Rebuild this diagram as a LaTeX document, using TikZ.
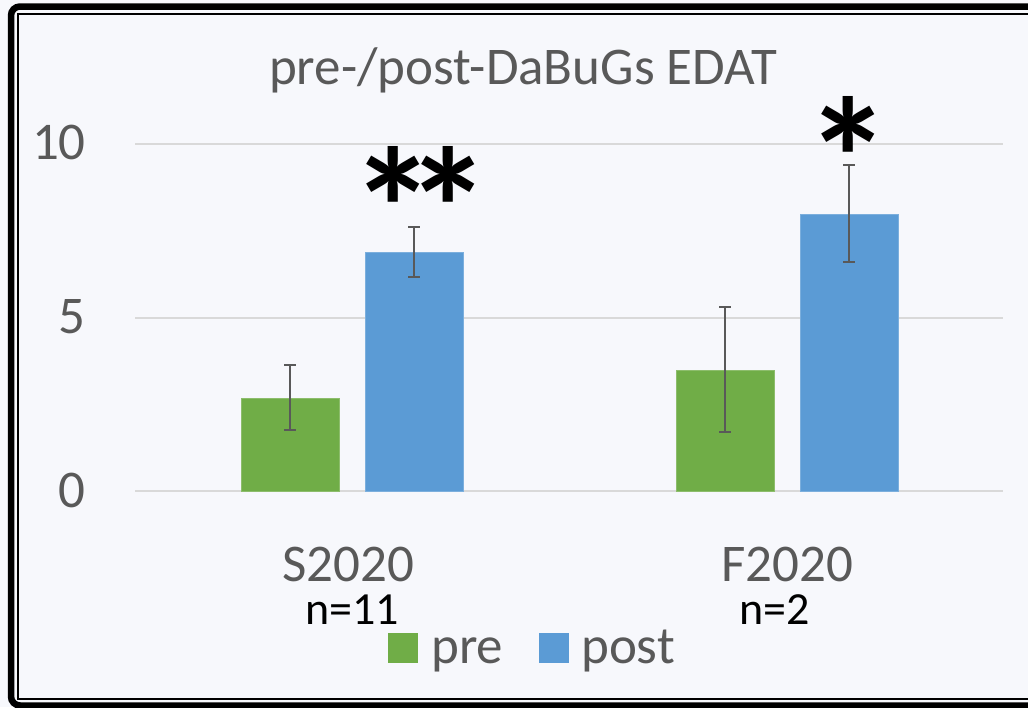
\documentclass[tikz,border=0pt]{standalone}
\usepackage{fontspec}
\setmainfont{Carlito}
\definecolor{bg}{RGB}{247,248,252}
\definecolor{txt}{RGB}{89,89,89}
\definecolor{gridc}{RGB}{217,217,217}
\definecolor{prec}{RGB}{112,173,71}
\definecolor{postc}{RGB}{91,155,213}
\begin{document}
\begin{tikzpicture}[x=1pt,y=-1pt,
  lbl/.style={inner sep=0pt, text=txt, font=\fontsize{53}{60}\selectfont},
  catlbl/.style={lbl, text depth=0pt},
  nlbl/.style={inner sep=0pt, text=black, text height=28pt, font=\fontsize{46}{52}\selectfont},
  star/.style={inner sep=0pt, text=black, font=\fontsize{172}{180}\selectfont\bfseries},
  gridline/.style={gridc, line width=2pt},
  prebar/.style={fill=prec, draw=prec!80!white, line width=0.8pt},
  postbar/.style={fill=postc, draw=postc!80!white, line width=0.8pt},
  errbar/.style={draw=txt, line width=2pt},
]
\useasboundingbox (0,0) rectangle (1028,707);
\fill[bg] (0,0) rectangle (1028,707);
% frame
\draw[line width=6.5pt, rounded corners=9pt] (11,6.5) rectangle (1045,705.5);
\draw[line width=2pt] (18,14) rectangle (1038,699);
% title
\node[lbl, anchor=base] (title) at (523,84) {pre-/post-DaBuGs EDAT};
% grid
\coordinate (g0a) at (135,491); \coordinate (g0b) at (1003,491);
\coordinate (g5a) at (135,317.5); \coordinate (g5b) at (1003,317.5);
\coordinate (g10a) at (135,143.5); \coordinate (g10b) at (1003,143.5);
\draw[gridline] (g10a) -- (g10b);
\draw[gridline] (g5a) -- (g5b);
\draw[gridline] (g0a) -- (g0b);
\node[lbl, anchor=base east] (y10) at (86,159) {10};
\node[lbl, anchor=base east] (y5) at (86,333) {5};
\node[lbl, anchor=base east] (y0) at (86,507) {0};
% bars
\fill[prebar] (241,398) rectangle (339,491);
\fill[postbar] (365,252) rectangle (463,491);
\fill[prebar] (676,370) rectangle (774,491);
\fill[postbar] (800,214) rectangle (898,491);
% error bars
\foreach \x/\a/\b in {290/365/430, 414/227/277, 725/307/432, 849/165/262}{
  \draw[errbar] (\x,\a) -- (\x,\b);
  \draw[errbar] (\x-6,\a) -- (\x+6,\a);
  \draw[errbar] (\x-6,\b) -- (\x+6,\b);
}
% stars
\node[star] (s1) at (421,208) {*\kern-31pt*};
\node[star] (s2) at (848,158) {*};
% categories
\node[catlbl, anchor=base] (c1) at (348,581) {S2020};
\node[catlbl, anchor=base] (c2) at (787,581) {F2020};
\node[nlbl, anchor=base] (n1) at (352,624) {n=11};
\node[nlbl, anchor=base] (n2) at (775,624) {n=2};
% legend
\fill[prec] (388,633) rectangle (418,663);
\node[lbl, anchor=base west] (lpre) at (431,663) {pre};
\fill[postc] (539,633) rectangle (569,663);
\node[lbl, anchor=base west] (lpost) at (581,663) {post};
\end{tikzpicture}
\end{document}
